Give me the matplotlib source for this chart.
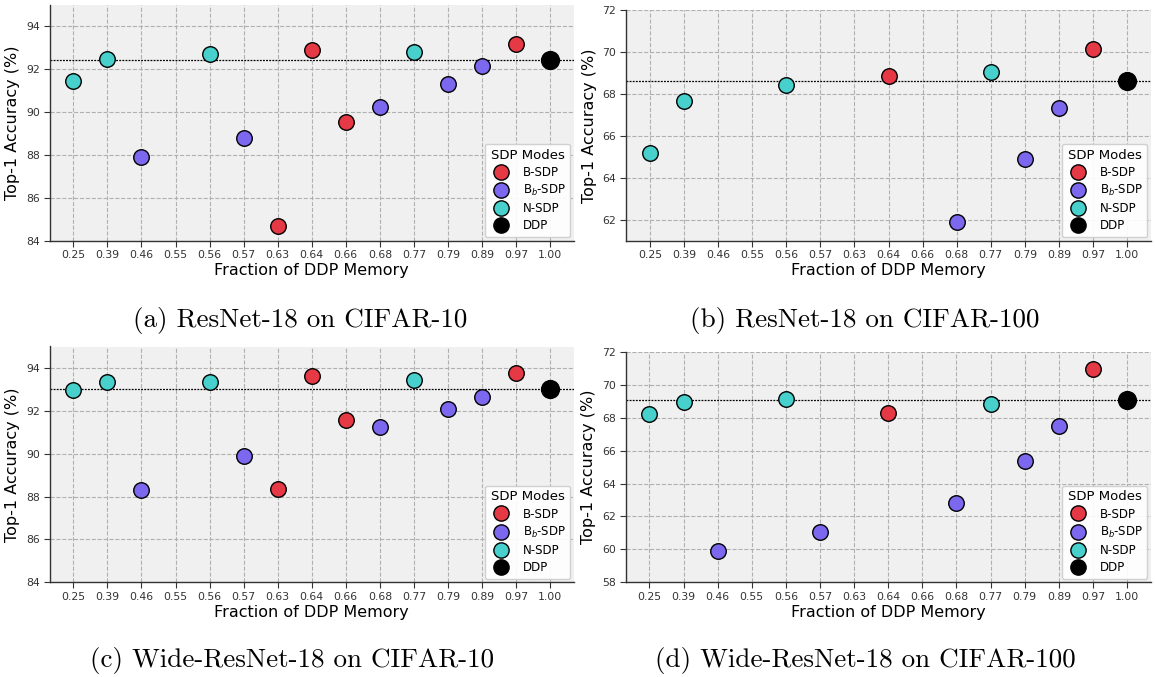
import numpy as np
import matplotlib
matplotlib.use("Agg")
import matplotlib.pyplot as plt
from matplotlib.lines import Line2D

W, H = 1155, 677
fractions = ['0.25', '0.39', '0.46', '0.55', '0.56', '0.57', '0.63', '0.64',
             '0.66', '0.68', '0.77', '0.79', '0.89', '0.97', '1.00']

# Panel (a) ResNet-18 on CIFAR-10
a_bsdp_x = ['0.63', '0.64', '0.66', '0.97']
a_bsdp_y = [84.70, 92.89, 89.52, 93.19]
a_bb_x = ['0.46', '0.57', '0.68', '0.79', '0.89']
a_bb_y = [87.91, 88.80, 90.23, 91.31, 92.14]
a_nsdp_x = ['0.25', '0.39', '0.56', '0.77']
a_nsdp_y = [91.45, 92.47, 92.72, 92.81]
a_ddp = 92.44

# Panel (b) ResNet-18 on CIFAR-100
b_bsdp_x = ['0.64', '0.97']
b_bsdp_y = [68.83, 70.13]
b_bb_x = ['0.68', '0.79', '0.89']
b_bb_y = [61.89, 64.89, 67.32]
b_nsdp_x = ['0.25', '0.39', '0.56', '0.77']
b_nsdp_y = [65.19, 67.68, 68.41, 69.02]
b_ddp = 68.60

# Panel (c) Wide-ResNet-18 on CIFAR-10
c_bsdp_x = ['0.63', '0.64', '0.66', '0.97']
c_bsdp_y = [88.34, 93.63, 91.55, 93.78]
c_bb_x = ['0.46', '0.57', '0.68', '0.79', '0.89']
c_bb_y = [88.29, 89.88, 91.24, 92.07, 92.64]
c_nsdp_x = ['0.25', '0.39', '0.56', '0.77']
c_nsdp_y = [92.97, 93.36, 93.33, 93.44]
c_ddp = 93.00

# Panel (d) Wide-ResNet-18 on CIFAR-100
d_bsdp_x = ['0.64', '0.97']
d_bsdp_y = [68.28, 70.97]
d_bb_x = ['0.46', '0.57', '0.68', '0.79', '0.89']
d_bb_y = [59.92, 61.05, 62.83, 65.37, 67.52]
d_nsdp_x = ['0.25', '0.39', '0.56', '0.77']
d_nsdp_y = [68.26, 68.95, 69.13, 68.81]
d_ddp = 69.11

captions = ['(a) ResNet-18 on CIFAR-10', '(b) ResNet-18 on CIFAR-100',
            '(c) Wide-ResNet-18 on CIFAR-10', '(d) Wide-ResNet-18 on CIFAR-100']
ylims = [(84, 95), (61, 72), (84, 95), (58, 72)]
yticks = [[84, 86, 88, 90, 92, 94], [62, 64, 66, 68, 70, 72],
          [84, 86, 88, 90, 92, 94], [58, 60, 62, 64, 66, 68, 70, 72]]

C_B = '#E63946'
C_BB = '#7B68EE'
C_N = '#48D1CC'
C_D = '#000000'

panels = [
    (a_bsdp_x, a_bsdp_y, a_bb_x, a_bb_y, a_nsdp_x, a_nsdp_y, a_ddp),
    (b_bsdp_x, b_bsdp_y, b_bb_x, b_bb_y, b_nsdp_x, b_nsdp_y, b_ddp),
    (c_bsdp_x, c_bsdp_y, c_bb_x, c_bb_y, c_nsdp_x, c_nsdp_y, c_ddp),
    (d_bsdp_x, d_bsdp_y, d_bb_x, d_bb_y, d_nsdp_x, d_nsdp_y, d_ddp),
]

# axes boxes in pixels: left, right, top, bottom
boxes = [(49.5, 574, 5, 240.7), (626, 1151, 10, 240.7),
         (49.5, 574, 346.5, 582.3), (625.5, 1151, 352, 582.3)]
cap_pos = [(300, 320), (865, 320), (292, 660), (865, 660)]

fig = plt.figure(figsize=(W / 100, H / 100), dpi=100)

def idx(cats):
    return [fractions.index(c) for c in cats]

for i, (p, box) in enumerate(zip(panels, boxes)):
    l, r, t, b = box
    ax = fig.add_axes([l / W, 1 - b / H, (r - l) / W, (b - t) / H])
    ax.set_facecolor('#f0f0f0')
    bx, by, bbx, bby, nx, ny, ddp = p
    ax.axhline(ddp, color='black', linestyle=(0, (1.5, 1)), linewidth=0.9, zorder=2)
    kw = dict(edgecolor='black', linewidths=1.0, zorder=3)
    ax.scatter(idx(bx), by, s=125, color=C_B, **kw)
    ax.scatter(idx(bbx), bby, s=125, color=C_BB, **kw)
    ax.scatter(idx(nx), ny, s=125, color=C_N, **kw)
    ax.scatter(idx(['1.00']), [ddp], s=165, color=C_D, **kw)
    ax.set_xticks(range(len(fractions)))
    ax.set_xticklabels(fractions)
    ax.set_xlim(-0.7, len(fractions) - 0.3)
    ax.set_ylim(*ylims[i])
    ax.set_yticks(yticks[i])
    ax.grid(True, linestyle='--', color='#b0b0b0', linewidth=0.8, zorder=0)
    ax.set_axisbelow(True)
    for s in ['top', 'right']:
        ax.spines[s].set_visible(False)
    for s in ['left', 'bottom']:
        ax.spines[s].set_color('#333333')
        ax.spines[s].set_linewidth(1.0)
    ax.tick_params(axis='both', labelsize=7.8, colors='#333333', length=4,
                   labelcolor='#333333', pad=3)
    ax.set_xlabel('Fraction of DDP Memory', fontsize=11.5, labelpad=2)
    ax.set_ylabel('Top-1 Accuracy (%)', fontsize=11.5, labelpad=4)
    handles = [
        Line2D([], [], marker='o', linestyle='', markersize=11, markerfacecolor=C_B, markeredgecolor='black'),
        Line2D([], [], marker='o', linestyle='', markersize=11, markerfacecolor=C_BB, markeredgecolor='black'),
        Line2D([], [], marker='o', linestyle='', markersize=11, markerfacecolor=C_N, markeredgecolor='black'),
        Line2D([], [], marker='o', linestyle='', markersize=11, markerfacecolor=C_D, markeredgecolor='black'),
    ]
    leg = ax.legend(handles, ['B-SDP', r'B$_b$-SDP', 'N-SDP', 'DDP'], title='SDP Modes',
                    loc='lower right', fontsize=8.5, title_fontsize=9.5,
                    borderaxespad=0.3, handletextpad=0.8, labelspacing=0.35,
                    borderpad=0.4, framealpha=0.9, edgecolor='#cccccc', facecolor='white')
    leg.set_zorder(5)
    cx, cy = cap_pos[i]
    fig.text(cx / W, 1 - cy / H, captions[i], fontfamily='cmr10', fontsize=19.5,
             ha='center', va='center')

fig.savefig('out.png', dpi=100)
